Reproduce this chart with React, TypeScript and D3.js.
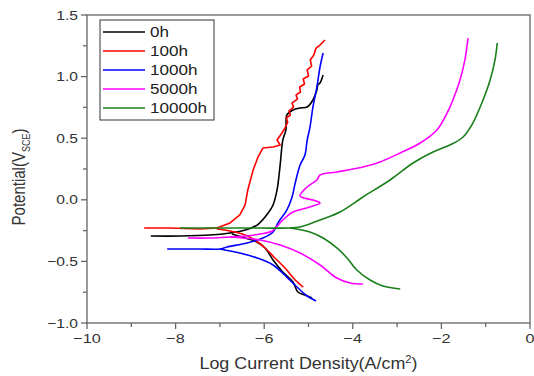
import React from "react";
import * as d3 from "d3";

type Pt = [number, number]; // [log current density, potential]

const seriesLabels = ["0h", "100h", "1000h", "5000h", "10000h"];
const seriesColors = ["#000000", "#ff0000", "#0000ff", "#ff00ff", "#1a7f1a"];

const xTicks = [-10, -8, -6, -4, -2, 0];
const xMinorTicks = [-9, -7, -5, -3, -1];
const yTicks = [-1.0, -0.5, 0.0, 0.5, 1.0, 1.5];
const yMinorTicks = [-0.75, -0.25, 0.25, 0.75, 1.25];

// 0h
const anodic0h: Pt[] = [
  [-8.56, -0.294], [-7.9, -0.294], [-7.22, -0.286], [-6.77, -0.269], [-6.43, -0.245],
  [-6.16, -0.205], [-5.91, -0.107], [-5.8, -0.042], [-5.71, 0.08], [-5.64, 0.282],
  [-5.58, 0.485], [-5.51, 0.567], [-5.49, 0.688], [-5.35, 0.729], [-5.19, 0.745],
  [-5.03, 0.753], [-4.9, 0.81], [-4.81, 0.891], [-4.79, 0.932], [-4.74, 0.948], [-4.67, 1.013],
];
const cathodic0h: Pt[] = [
  [-6.73, -0.278], [-6.43, -0.31], [-6.21, -0.334], [-5.98, -0.391], [-5.8, -0.489],
  [-5.58, -0.586], [-5.35, -0.667], [-5.24, -0.748], [-5.08, -0.773], [-4.92, -0.797],
];

// 100h
const anodic100h: Pt[] = [
  [-8.71, -0.229], [-8.13, -0.229], [-7.45, -0.237], [-7.07, -0.229], [-6.77, -0.188],
  [-6.55, -0.123], [-6.43, -0.042], [-6.37, 0.08], [-6.25, 0.242], [-6.14, 0.347],
  [-6.03, 0.42], [-5.8, 0.429], [-5.64, 0.445], [-5.71, 0.485], [-5.6, 0.542],
  [-5.53, 0.583], [-5.47, 0.631], [-5.5, 0.664], [-5.41, 0.688], [-5.44, 0.721],
  [-5.34, 0.753], [-5.37, 0.786], [-5.25, 0.818], [-5.28, 0.851], [-5.18, 0.875],
  [-5.2, 0.916], [-5.09, 0.94], [-5.12, 0.981], [-5.0, 1.005], [-5.03, 1.054],
  [-4.93, 1.086], [-4.96, 1.135], [-4.88, 1.175], [-4.83, 1.232], [-4.74, 1.256], [-4.63, 1.297],
];
const cathodic100h: Pt[] = [
  [-7.07, -0.237], [-6.77, -0.253], [-6.43, -0.286], [-6.21, -0.326], [-5.98, -0.391],
  [-5.76, -0.472], [-5.53, -0.554], [-5.3, -0.651], [-5.12, -0.708],
];

// 1000h
const anodic1000h: Pt[] = [
  [-8.19, -0.399], [-7.45, -0.399], [-7.0, -0.399], [-6.84, -0.383], [-6.39, -0.351],
  [-6.03, -0.31], [-5.8, -0.261], [-5.69, -0.188], [-5.49, -0.083], [-5.37, 0.023],
  [-5.3, 0.136], [-5.19, 0.282], [-5.08, 0.364], [-5.03, 0.485], [-4.97, 0.583],
  [-4.9, 0.753], [-4.81, 0.916], [-4.74, 1.078], [-4.67, 1.192],
];
const cathodic1000h: Pt[] = [
  [-7.0, -0.399], [-6.55, -0.432], [-6.16, -0.472], [-5.8, -0.529], [-5.49, -0.627],
  [-5.26, -0.708], [-5.03, -0.781], [-4.83, -0.821],
];

// 5000h
const anodic5000h: Pt[] = [
  [-7.72, -0.31], [-7.22, -0.31], [-6.77, -0.302], [-6.43, -0.294], [-6.09, -0.278],
  [-5.82, -0.253], [-5.58, -0.164], [-5.35, -0.099], [-4.97, -0.058], [-4.74, -0.026],
  [-4.9, -0.002], [-5.19, 0.031], [-5.03, 0.104], [-4.81, 0.161], [-4.74, 0.201],
  [-4.36, 0.226], [-3.77, 0.266], [-3.4, 0.305], [-2.93, 0.38], [-2.48, 0.461],
  [-2.1, 0.567], [-1.87, 0.705], [-1.74, 0.81], [-1.58, 0.972], [-1.47, 1.135], [-1.4, 1.313],
];
const cathodic5000h: Pt[] = [
  [-6.77, -0.302], [-6.09, -0.326], [-5.64, -0.367], [-5.19, -0.432], [-4.74, -0.529],
  [-4.36, -0.635], [-4.06, -0.675], [-3.77, -0.683],
];

// 10000h
const anodic10000h: Pt[] = [
  [-7.9, -0.229], [-7.0, -0.229], [-6.09, -0.229], [-5.42, -0.229], [-5.19, -0.221],
  [-4.74, -0.164], [-4.29, -0.099], [-3.77, 0.023], [-3.16, 0.161], [-2.64, 0.299],
  [-2.19, 0.388], [-1.81, 0.445], [-1.51, 0.51], [-1.29, 0.623], [-1.06, 0.81],
  [-0.9, 0.972], [-0.79, 1.135], [-0.74, 1.273],
];
const cathodic10000h: Pt[] = [
  [-5.42, -0.229], [-4.97, -0.261], [-4.67, -0.31], [-4.36, -0.391], [-4.13, -0.472],
  [-3.91, -0.57], [-3.61, -0.651], [-3.32, -0.7], [-2.93, -0.724],
];

const anodicData = [anodic0h, anodic100h, anodic1000h, anodic5000h, anodic10000h];
const cathodicData = [cathodic0h, cathodic100h, cathodic1000h, cathodic5000h, cathodic10000h];

const W = 534;
const H = 376;
const M = { left: 87, right: 4, top: 15, bottom: 53 };

export default function App() {
  const x = d3.scaleLinear().domain([-10, 0]).range([M.left, W - M.right]);
  const y = d3.scaleLinear().domain([-1, 1.5]).range([H - M.bottom, M.top]);
  const smooth = d3
    .line<Pt>()
    .x((d) => x(d[0]))
    .y((d) => y(d[1]))
    .curve(d3.curveCatmullRom.alpha(0.5));
  const sharp = d3
    .line<Pt>()
    .x((d) => x(d[0]))
    .y((d) => y(d[1]));

  const axisColor = "#666";
  const textColor = "#333";
  const font = "'Liberation Sans', Arial, sans-serif";
  const sx = 1.2;
  const x0 = x(-10);
  const x1 = x(0);
  const y0 = y(-1);
  const y1 = y(1.5);

  const legendX = 100;
  const legendY = 20;
  const legendRow = 19;

  return (
    <svg
      width={W}
      height={H}
      style={{ position: "absolute", left: 0, top: 0, background: "#fff" }}
      fontFamily={font}
    >
      <rect x={0} y={0} width={W} height={H} fill="#fff" />
      {/* frame */}
      <rect x={x0} y={y1} width={x1 - x0} height={y0 - y1} fill="none" stroke={axisColor} strokeWidth={1.3} />
      {/* x ticks */}
      {xTicks.map((t) => (
        <g key={"xt" + t}>
          <line x1={x(t)} x2={x(t)} y1={y0} y2={y0 + 6} stroke={axisColor} strokeWidth={1.3} />
          <text
            transform={`translate(${x(t)},${y0 + 20}) scale(${sx},1)`}
            textAnchor="middle"
            fontSize={13.5}
            fill={textColor}
          >
            {d3.format("d")(t)}
          </text>
        </g>
      ))}
      {xMinorTicks.map((t) => (
        <line key={"xm" + t} x1={x(t)} x2={x(t)} y1={y0} y2={y0 + 4} stroke={axisColor} strokeWidth={1.3} />
      ))}
      {/* y ticks */}
      {yTicks.map((t) => (
        <g key={"yt" + t}>
          <line x1={x0 - 6} x2={x0} y1={y(t)} y2={y(t)} stroke={axisColor} strokeWidth={1.3} />
          <text
            transform={`translate(${x0 - 9},${y(t) + 4.5}) scale(${sx},1)`}
            textAnchor="end"
            fontSize={13}
            fill={textColor}
          >
            {d3.format(".1f")(t)}
          </text>
        </g>
      ))}
      {yMinorTicks.map((t) => (
        <line key={"ym" + t} x1={x0 - 4} x2={x0} y1={y(t)} y2={y(t)} stroke={axisColor} strokeWidth={1.3} />
      ))}
      {/* axis titles */}
      <text
        transform={`translate(${(x0 + x1) / 2},${369}) scale(1.12,1)`}
        textAnchor="middle"
        fontSize={16}
        fill={textColor}
      >
        Log Current Density(A/cm<tspan dy={-6} fontSize={10}>2</tspan>
        <tspan dy={6}>)</tspan>
      </text>
      <text
        transform={`translate(25,${(y0 + y1) / 2 + 8}) scale(1.25,1) rotate(-90)`}
        textAnchor="middle"
        fontSize={15}
        fill={textColor}
      >
        Potential(V<tspan dy={4} fontSize={9}>SCE</tspan>
        <tspan dy={-4}>)</tspan>
      </text>
      {/* curves */}
      {seriesLabels.map((s, i) => (
        <g key={"c" + s} fill="none" stroke={seriesColors[i]} strokeWidth={1.6} strokeLinejoin="round">
          <path d={smooth(cathodicData[i]) || ""} />
          <path d={(i === 1 ? sharp(anodicData[i]) : smooth(anodicData[i])) || ""} />
        </g>
      ))}
      {/* legend */}
      <rect x={legendX} y={legendY} width={114} height={100} fill="#fff" stroke="#333" strokeWidth={1} />
      {seriesLabels.map((s, i) => {
        const ly = legendY + 12 + i * legendRow;
        return (
          <g key={"l" + s}>
            <line x1={legendX + 3} x2={legendX + 45} y1={ly} y2={ly} stroke={seriesColors[i]} strokeWidth={1.6} />
            <text
              transform={`translate(${legendX + 50},${ly + 5}) scale(1.22,1)`}
              fontSize={14}
              fill="#222"
            >
              {s}
            </text>
          </g>
        );
      })}
    </svg>
  );
}
